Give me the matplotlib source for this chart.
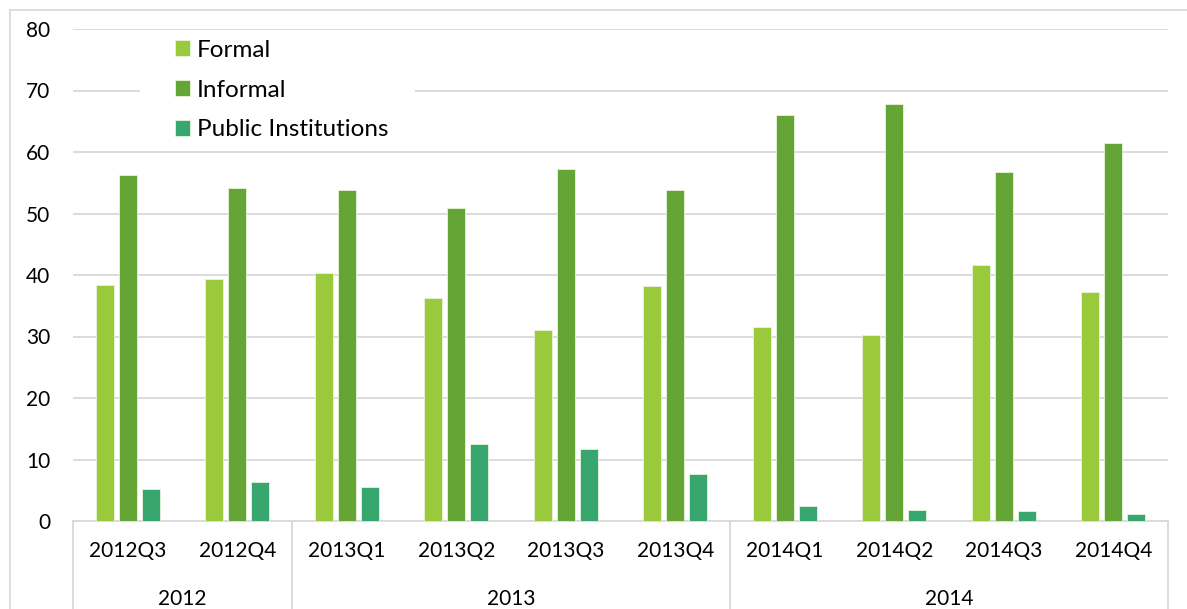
import matplotlib
matplotlib.use("Agg")
from matplotlib import pyplot as plt
from matplotlib.patches import Rectangle
import numpy as np

plt.rcParams["font.family"] = ["Lato", "DejaVu Sans"]

quarters = ["2012Q3", "2012Q4", "2013Q1", "2013Q2", "2013Q3", "2013Q4",
            "2014Q1", "2014Q2", "2014Q3", "2014Q4"]
years = ["2012", "2013", "2014"]
year_counts = [2, 4, 4]

formal = [38.4, 39.3, 40.4, 36.3, 31.0, 38.2, 31.5, 30.3, 41.6, 37.3]
informal = [56.3, 54.1, 53.9, 50.9, 57.2, 53.9, 66.0, 67.8, 56.7, 61.5]
public = [5.2, 6.4, 5.5, 12.6, 11.7, 7.7, 2.4, 1.8, 1.6, 1.1]

series = [("Formal", formal, "#9aca3c"),
          ("Informal", informal, "#64a536"),
          ("Public Institutions", public, "#37a76f")]

W, H = 1187, 609
fig = plt.figure(figsize=(W / 100, H / 100), dpi=100)
ax = fig.add_axes([73 / W, 1 - 521 / H, (1168 - 73) / W, (521 - 29) / H])

# outer chart frame (top and left edges visible)
fig.add_artist(plt.Line2D([10 / W, 1.0], [1 - 10 / H] * 2, color="#d9d9d9", lw=1.2))
fig.add_artist(plt.Line2D([10 / W] * 2, [0, 1 - 10 / H], color="#d9d9d9", lw=1.2))

x = np.arange(len(quarters))
step, bw = 0.21, 0.168
for k, (name, vals, col) in enumerate(series):
    ax.bar(x + (k - 1) * step, vals, bw, color=col, edgecolor="#e8f3dc",
           linewidth=0.6, label=name, zorder=3)

ax.set_xlim(-0.5, len(quarters) - 0.5)
ax.set_ylim(0, 80)
ax.set_yticks(np.arange(0, 81, 10))
ax.yaxis.grid(True, color="#d9d9d9", lw=1.3, zorder=0)
ax.tick_params(axis="y", length=0, labelsize=15, pad=16.5, colors="black")
ax.set_xticks([])
for s in ["top", "right", "left"]:
    ax.spines[s].set_visible(False)
ax.spines["bottom"].set_color("#d9d9d9")
ax.spines["bottom"].set_linewidth(1.3)

# two-level category axis
trans = ax.get_xaxis_transform()
for i, q in enumerate(quarters):
    ax.text(i, -0.061, q, transform=trans, ha="center", va="center", fontsize=15)
bounds = np.concatenate([[0], np.cumsum(year_counts)]) - 0.5
for b in bounds:
    ax.plot([b, b], [0, -0.19], transform=trans, color="#d9d9d9", lw=1.3, clip_on=False)
for j, y in enumerate(years):
    ax.text((bounds[j] + bounds[j + 1]) / 2, -0.158, y, transform=trans,
            ha="center", va="center", fontsize=15)

# white legend backdrop breaking the gridline
ax.add_patch(Rectangle((0.061, 0.774), 0.251, 0.208, transform=ax.transAxes,
                       facecolor="white", edgecolor="none", zorder=2))
leg = ax.legend(loc="upper left", bbox_to_anchor=(0.093, 0.978), fontsize=17.5,
                frameon=False, handlelength=0.62, handleheight=0.62,
                handletextpad=0.3, labelspacing=0.77, borderpad=0,
                borderaxespad=0)

plt.savefig("out.png", dpi=100)
